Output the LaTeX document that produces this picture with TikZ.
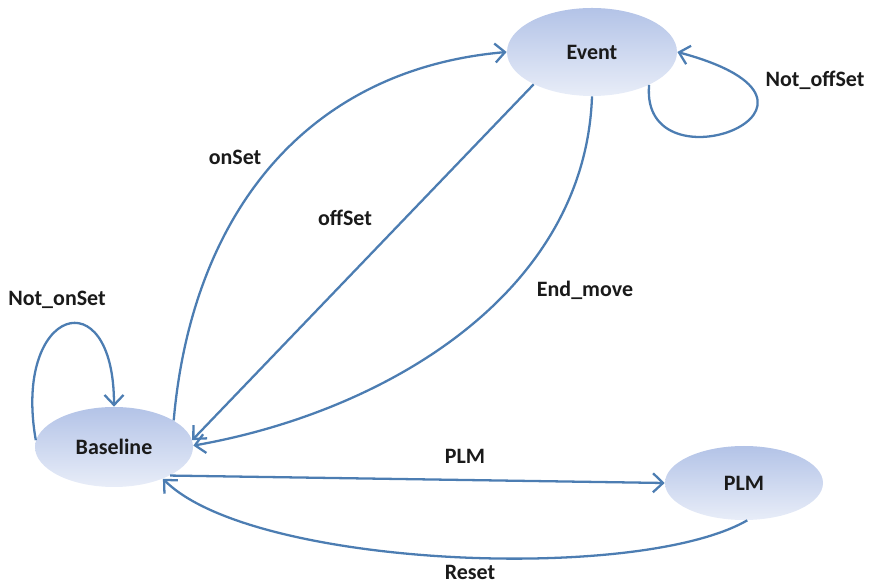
\documentclass[tikz,border=0pt]{standalone}
\usepackage{fontspec}
\setmainfont{Carlito}
\usepackage{tikz}
\usepackage{xcolor}
\usetikzlibrary{positioning,arrows.meta,shapes.geometric,calc}
\definecolor{statetop}{HTML}{B3C3E7}
\definecolor{statebot}{HTML}{E8EDF8}
\definecolor{edgeblue}{HTML}{4C7DB2}
\definecolor{labeltext}{HTML}{1A1A1A}

\begin{document}
\begin{tikzpicture}[every node/.style={font=\fontsize{12.5}{15}\selectfont\bfseries,text=labeltext},
    state/.style={ellipse,top color=statetop,bottom color=statebot,minimum width=3.16cm,minimum height=1.6cm,inner sep=0pt},
    trans/.style={draw=edgeblue,line width=1.3pt,-{Straight Barb[length=2mm,width=3.8mm]}}]
    \useasboundingbox (0,0) rectangle (17.42,11.64);
    % states
    \node[state,minimum width=3.4cm,minimum height=1.76cm] (event) at (11.84,10.60) {Event};
    \node[state] (baseline) at (2.28,2.70) {Baseline};
    \node[state,minimum height=1.48cm] (plm) at (14.88,1.98) {PLM};
    % transitions
    \draw[trans] (baseline.24) to[out=85,in=185,looseness=1.05] (event.west);
    \draw[trans] (event.209) -- (baseline.5);
    \draw[trans] (event.south) to[out=-92,in=10,looseness=0.95] (baseline.1);
    \draw[trans] (event.-30) .. controls +(-95:2.2) and +(-15:4.1) .. (event.east);
    \draw[trans] (baseline.175) .. controls +(100:2.7) and +(90:2.6) .. (baseline.north);
    \draw[trans] (baseline.-27) -- (plm.west);
    \draw[trans] (plm.-85) to[out=-150,in=-45,looseness=0.55] (baseline.-33);
    % labels
    \node (lonset) at (4.70,8.50) {onSet};
    \node (loffset) at (6.90,7.28) {offSet};
    \node (lendmove) at (11.70,5.84) {End\_move};
    \node (lnotoff) at (16.30,10.04) {Not\_offSet};
    \node (lnoton) at (1.14,5.64) {Not\_onSet};
    \node (lplm) at (9.30,2.52) {PLM};
    \node (lreset) at (9.40,0.20) {Reset};
\end{tikzpicture}
\end{document}
